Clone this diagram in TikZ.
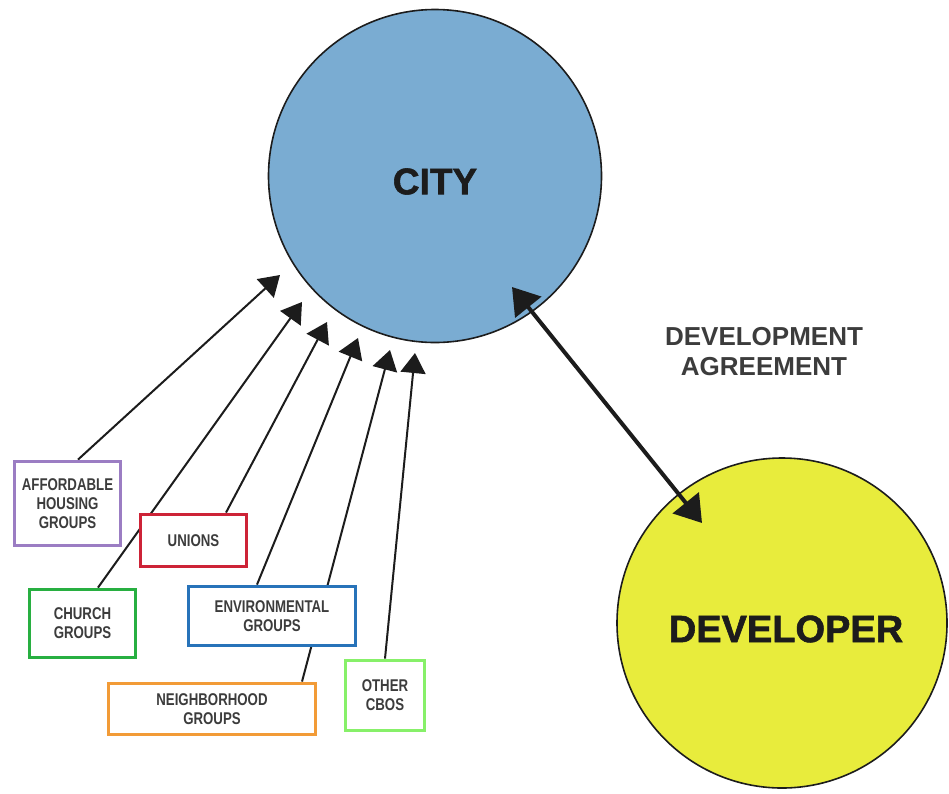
\documentclass[tikz,border=0pt]{standalone}
\usepackage{fontspec}
\setmainfont{Liberation Sans}
\newfontfamily\condfont[FakeStretch=0.78]{Liberation Sans}
\newfontfamily\heavyfont[FakeBold=1.5]{Liberation Sans}
\usetikzlibrary{arrows.meta,backgrounds}
\definecolor{cityblue}{RGB}{122,172,210}
\definecolor{devyellow}{RGB}{232,236,60}
\definecolor{purp}{RGB}{155,125,195}
\definecolor{ured}{RGB}{205,35,55}
\definecolor{cgreen}{RGB}{40,175,65}
\definecolor{eblue}{RGB}{40,115,185}
\definecolor{norange}{RGB}{242,155,55}
\definecolor{lgreen}{RGB}{135,240,105}
\definecolor{textgray}{RGB}{60,60,60}
\definecolor{inkblack}{RGB}{28,28,28}
\begin{document}
\begin{tikzpicture}[x=1pt,y=-1pt,
  grp/.style={draw, line width=3.8pt, fill=white, inner sep=0pt, align=center,
    font=\condfont\bfseries\fontsize{17pt}{19pt}\selectfont, text=textgray},
  link/.style={draw=inkblack, line width=2pt, -{Triangle[length=20pt,width=25pt]}},
  bigcircle/.style={circle, draw=inkblack, line width=1.6pt, inner sep=0pt},
  bigtext/.style={font=\heavyfont\bfseries\fontsize{#1}{#1}\selectfont, text=inkblack, inner sep=0pt},
  deal/.style={draw=inkblack, line width=4pt,
    {Triangle[length=26pt,width=33pt]}-{Triangle[length=26pt,width=33pt]}}
]
\useasboundingbox (0,0) rectangle (949,793);

% circles
\node[bigcircle, fill=cityblue, minimum size=333pt] (city) at (435,176) {};
\node[bigtext=37pt] (citylabel) at (435,181.5) {CITY};
\node[bigcircle, fill=devyellow, minimum size=330pt] (dev) at (782,623) {};
\node[bigtext=38pt] (devlabel) at (786,629) {DEVELOPER};

% agreement label
\node[font=\bfseries\fontsize{26pt}{30pt}\selectfont, text=textgray, align=center] (agr) at (764,352) {DEVELOPMENT\\AGREEMENT};

% group boxes
\node[grp, draw=purp, minimum width=106pt, minimum height=84pt] (aff) at (67.5,503.5) {AFFORDABLE\\HOUSING\\GROUPS};
\node[grp, draw=ured, minimum width=106pt, minimum height=52pt] (uni) at (193.5,540.5) {UNIONS};
\node[grp, draw=cgreen, minimum width=106pt, minimum height=68pt] (chu) at (82.5,623.5) {CHURCH\\GROUPS};
\node[grp, draw=eblue, minimum width=167pt, minimum height=59pt] (env) at (272,616) {ENVIRONMENTAL\\GROUPS};
\node[grp, draw=norange, minimum width=207pt, minimum height=51pt] (nei) at (212,709) {NEIGHBORHOOD\\GROUPS};
\node[grp, draw=lgreen, minimum width=79pt, minimum height=70pt] (oth) at (385,695.5) {OTHER\\CBOS};

% arrow tips near the city
\coordinate (t1) at (280,275);
\coordinate (t2) at (302,302);
\coordinate (t3) at (327,322);
\coordinate (t4) at (358,338);
\coordinate (t5) at (390,350);
\coordinate (t6) at (415,353);

\begin{scope}[on background layer]
\draw[link] ([xshift=10.5pt]aff.north) -- (t1);
\draw[link] ([xshift=15.5pt]chu.north) -- (t2);
\draw[link] ([xshift=32.5pt]uni.north) -- (t3);
\draw[link] ([xshift=-15pt]env.north) -- (t4);
\draw[link] ([xshift=90pt]nei.north) -- (t5);
\draw[link] (oth.north) -- (t6);
\end{scope}

% development agreement arrow
\coordinate (d1) at (512,287);
\coordinate (d2) at (702,523);
\draw[deal] (d1) -- (d2);
\end{tikzpicture}
\end{document}
